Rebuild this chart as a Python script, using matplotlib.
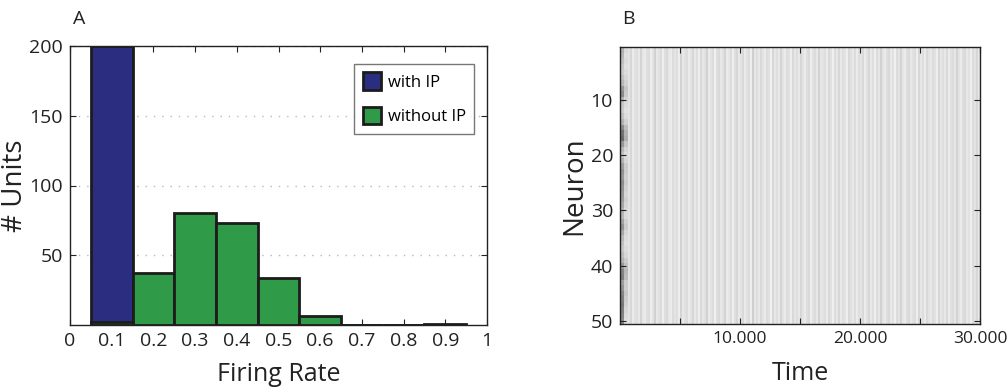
import numpy as np
import matplotlib
matplotlib.use("Agg")
import matplotlib.pyplot as plt
from matplotlib.ticker import FixedLocator, FixedFormatter

plt.rcParams['font.family'] = ['Open Sans', 'DejaVu Sans']

# ---------------- data ----------------
bin_centers = [0.1, 0.2, 0.3, 0.4, 0.5, 0.6, 0.7, 0.8, 0.9]
with_ip = [200, 0, 0, 0, 0, 0, 0, 0, 0.6]
without_ip = [2.4, 37.5, 80, 73, 34, 6.5, 0, 0, 0]
series_labels = ["with IP", "without IP"]
xticks_a = [0, 0.1, 0.2, 0.3, 0.4, 0.5, 0.6, 0.7, 0.8, 0.9, 1]
xticklabels_a = ["0", "0.1", "0.2", "0.3", "0.4", "0.5", "0.6", "0.7", "0.8", "0.9", "1"]
yticks_a = [50, 100, 150, 200]

# Panel B: activity image (gray level per time column, read approximately)
stripe_levels = [
    0.88, 0.92, 0.86, 0.91, 0.89, 0.84, 0.92, 0.88, 0.87, 0.91, 0.83, 0.90,
    0.92, 0.87, 0.86, 0.93, 0.89, 0.82, 0.91, 0.88, 0.86, 0.93, 0.87, 0.85,
    0.90, 0.92, 0.86, 0.89, 0.87, 0.93, 0.83, 0.91, 0.88, 0.86, 0.92, 0.89,
    0.84, 0.91, 0.87, 0.93, 0.85, 0.90, 0.88, 0.82, 0.92, 0.89, 0.86, 0.94,
    0.87, 0.85, 0.91, 0.88, 0.83, 0.92, 0.90, 0.86, 0.93, 0.87, 0.84, 0.91,
    0.89, 0.85, 0.92, 0.88, 0.86, 0.93, 0.81, 0.90, 0.87, 0.91, 0.85, 0.89,
    0.92, 0.86, 0.88, 0.94, 0.84, 0.90, 0.87, 0.91, 0.83, 0.89, 0.92, 0.86,
    0.88, 0.93, 0.85, 0.90, 0.87, 0.91, 0.84, 0.89, 0.92, 0.87, 0.85, 0.93,
    0.88, 0.86, 0.91, 0.83, 0.90, 0.89, 0.87, 0.92, 0.85, 0.88, 0.94, 0.86,
    0.90, 0.84, 0.91, 0.87, 0.89, 0.93, 0.85, 0.88, 0.91, 0.86, 0.92, 0.87,
    0.89, 0.85, 0.92, 0.88, 0.84, 0.91, 0.87, 0.93, 0.86, 0.90, 0.82, 0.89,
    0.92, 0.87, 0.85, 0.91, 0.88, 0.94, 0.86, 0.89, 0.83, 0.90, 0.92, 0.87,
    0.85, 0.91, 0.88, 0.86, 0.93, 0.84, 0.90, 0.87, 0.92, 0.85, 0.89, 0.91,
    0.86, 0.88, 0.93, 0.84, 0.90, 0.87, 0.91, 0.85, 0.92, 0.88, 0.86, 0.90,
    0.83, 0.89, 0.92, 0.87, 0.85, 0.91, 0.88, 0.93, 0.86, 0.89, 0.84, 0.91,
]
# early transient (first columns) gray level per neuron 1..50
onset_levels = [
    0.70, 0.72, 0.75, 0.78, 0.80, 0.76, 0.72, 0.60, 0.55, 0.70,
    0.78, 0.80, 0.76, 0.70, 0.55, 0.45, 0.42, 0.60, 0.72, 0.76,
    0.70, 0.62, 0.58, 0.60, 0.55, 0.58, 0.60, 0.62, 0.66, 0.70,
    0.72, 0.64, 0.58, 0.66, 0.72, 0.76, 0.78, 0.74, 0.70, 0.60,
    0.52, 0.50, 0.62, 0.58, 0.52, 0.50, 0.48, 0.50, 0.52, 0.55,
]
onset_levels_2 = [
    0.86, 0.88, 0.86, 0.88, 0.86, 0.84, 0.82, 0.78, 0.80, 0.84,
    0.86, 0.88, 0.86, 0.82, 0.74, 0.70, 0.68, 0.78, 0.84, 0.86,
    0.84, 0.80, 0.80, 0.82, 0.80, 0.82, 0.84, 0.82, 0.84, 0.86,
    0.86, 0.82, 0.80, 0.84, 0.86, 0.88, 0.86, 0.84, 0.80, 0.76,
    0.72, 0.74, 0.80, 0.80, 0.78, 0.80, 0.82, 0.84, 0.86, 0.88,
]
time_max = 30000
n_neurons = 50
xticks_b = [5000, 10000, 15000, 20000, 25000, 30000]
xticklabels_b = ["", "10.000", "", "20.000", "", "30.000"]
yticks_b = [10, 20, 30, 40, 50]

# ---------------- figure ----------------
fig = plt.figure(figsize=(10.07, 3.92), dpi=100)

blue = "#2b2e80"
green = "#2f9b48"
edge = "#1c1c1c"
txt = "#222222"

axA = fig.add_axes([70 / 1007, 67 / 392, 417 / 1007, 279 / 392])
axA.yaxis.grid(True, linestyle=(0, (1, 5)), color="#b8b8b8", linewidth=1.0)
axA.set_axisbelow(True)
axA.bar(bin_centers, with_ip, width=0.1, color=blue, edgecolor=edge,
        linewidth=2, label=series_labels[0], zorder=2)
axA.bar(bin_centers, without_ip, width=0.1, color=green, edgecolor=edge,
        linewidth=2, label=series_labels[1], zorder=3)
axA.set_xlim(0, 1)
axA.set_ylim(0, 200)
axA.xaxis.set_major_locator(FixedLocator(xticks_a))
axA.xaxis.set_major_formatter(FixedFormatter(xticklabels_a))
axA.set_yticks(yticks_a)
axA.tick_params(direction="in", top=True, right=True, labelsize=14,
                length=4, width=0.8, pad=5, colors=txt)
for s in axA.spines.values():
    s.set_linewidth(1.0)
    s.set_color(txt)
axA.set_xlabel("Firing Rate", fontsize=18, color=txt, labelpad=9)
axA.set_ylabel("# Units", fontsize=20, color=txt, labelpad=0)
leg = axA.legend(loc="upper right", bbox_to_anchor=(0.969, 0.935), fontsize=12,
                 frameon=True, fancybox=False, edgecolor="#555555",
                 handlelength=1.1, handleheight=1.2, handletextpad=0.4,
                 labelspacing=1.0, borderpad=0.5, borderaxespad=0)
leg.get_frame().set_linewidth(1.0)
fig.text(73 / 1007, 1 - 19 / 392, "A", fontsize=14, va="center", ha="left", color=txt)

# Panel B
img = np.tile(np.array(stripe_levels), (n_neurons, 1))
img[:, 0] = onset_levels
img[:, 1] = onset_levels
img[:, 2] = onset_levels_2
img[:, 3] = onset_levels_2
axB = fig.add_axes([620 / 1007, 68 / 392, 360 / 1007, 277 / 392])
axB.imshow(img, cmap="gray", vmin=0, vmax=1, aspect="auto",
           extent=[0, time_max, n_neurons + 0.5, 0.5], interpolation="nearest")
axB.set_xlim(0, time_max)
axB.set_ylim(n_neurons + 0.5, 0.5)
axB.xaxis.set_major_locator(FixedLocator(xticks_b))
axB.xaxis.set_major_formatter(FixedFormatter(xticklabels_b))
axB.set_yticks(yticks_b)
axB.tick_params(direction="in", top=True, right=True, labelsize=14,
                length=4, width=0.8, pad=5, colors=txt)
axB.tick_params(axis="x", labelsize=12.5)
for s in axB.spines.values():
    s.set_linewidth(1.0)
    s.set_color(txt)
axB.set_xlabel("Time", fontsize=18, color=txt, labelpad=10)
axB.set_ylabel("Neuron", fontsize=20, color=txt, labelpad=2)
fig.text(622 / 1007, 1 - 19 / 392, "B", fontsize=14, va="center", ha="left", color=txt)

fig.savefig("out.png", dpi=100)
